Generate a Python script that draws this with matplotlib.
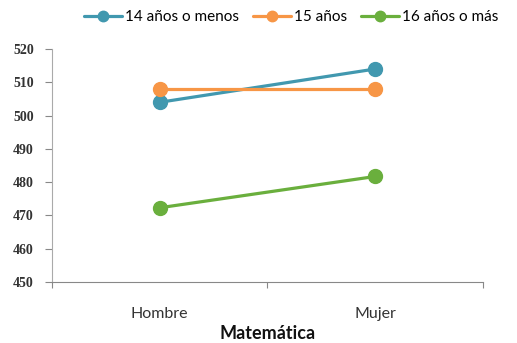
import matplotlib.pyplot as plt
import numpy as np

categories = ["Hombre", "Mujer"]
series_names = ["14 años o menos", "15 años", "16 años o más"]
values_14 = [504.0, 514.0]
values_15 = [508.0, 508.0]
values_16 = [472.3, 481.7]
colors = ["#4198AF", "#F79646", "#6AAF3D"]

fig = plt.figure(figsize=(5.17, 3.43), dpi=100)
ax = fig.add_axes([0.1006, 0.178, 0.8334, 0.679])

x = np.arange(len(categories))
for vals, name, c in zip([values_14, values_15, values_16], series_names, colors):
    ax.plot(x, vals, color=c, lw=2.3, marker="o", ms=10, label=name,
            solid_capstyle="round")

ax.set_xlim(-0.5, 1.5)
ax.set_ylim(450, 520)
ax.set_yticks(np.arange(450, 521, 10))
ax.tick_params(axis="y", direction="out", length=5, color="#888888",
               labelsize=10, pad=8)
for lab in ax.get_yticklabels():
    lab.set_family("Liberation Serif")
    lab.set_fontweight("bold")
    lab.set_color("#333333")

# category boundaries as major ticks, labels on minor ticks
ax.set_xticks([-0.5, 0.5, 1.5])
ax.set_xticklabels([])
ax.set_xticks(x, minor=True)
ax.set_xticklabels(categories, minor=True, family="Lato", fontsize=11.5,
                   color="#333333")
ax.tick_params(axis="x", which="major", direction="out", length=4,
               color="#888888")
ax.tick_params(axis="x", which="minor", length=0, pad=18)

ax.set_xlabel("Matemática", family="Lato", fontweight="bold",
              fontsize=13, labelpad=3, color="#111111")

for side in ["top", "right"]:
    ax.spines[side].set_visible(False)
ax.spines["left"].set_color("#AAAAAA")
ax.spines["bottom"].set_color("#888888")

leg = fig.legend(loc="upper center", bbox_to_anchor=(0.563, 1.01), ncol=3,
                 frameon=False, prop={"family": "Lato", "size": 11},
                 handlelength=2.5, handletextpad=0.2, columnspacing=0.9,
                 markerscale=0.75)

fig.savefig("out.png", dpi=100)
